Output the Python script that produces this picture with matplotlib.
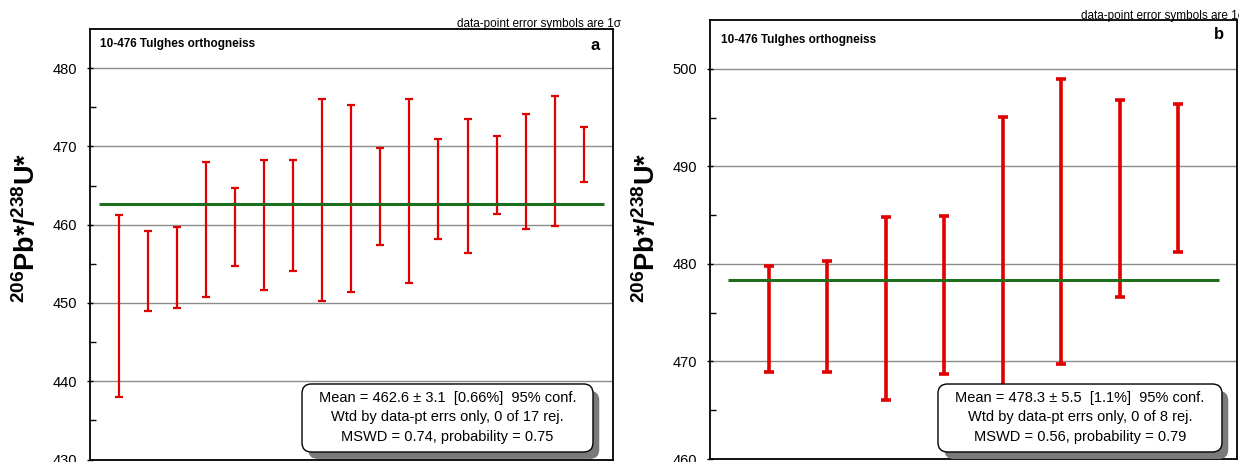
import matplotlib
matplotlib.use("Agg")
import matplotlib.pyplot as plt
from matplotlib.patches import FancyBboxPatch
import numpy as np

plt.rcParams['font.family'] = ['Liberation Sans', 'DejaVu Sans']
plt.rcParams['mathtext.fontset'] = 'custom'
plt.rcParams['mathtext.rm'] = 'Liberation Sans'
plt.rcParams['mathtext.bf'] = 'Liberation Sans:bold'
plt.rcParams['mathtext.it'] = 'Liberation Sans:italic'

# ---- data: panel a (17 analyses), error bar top / bottom ----
a_high = [461.3, 459.2, 459.7, 468.05, 464.75, 468.2, 468.2, 476.1, 475.25,
          469.75, 476.05, 471.0, 473.5, 471.35, 474.2, 476.4, 472.5]
a_low = [438.0, 449.0, 449.3, 450.7, 454.7, 451.7, 454.1, 450.3, 451.4,
         457.4, 452.55, 458.2, 456.4, 461.4, 459.4, 459.8, 465.4]
a_mean = 462.6
a_ticks = [430, 440, 450, 460, 470, 480]
a_text = ["Mean = 462.6 \u00b1 3.1  [0.66%]  95% conf.",
          "Wtd by data-pt errs only, 0 of 17 rej.",
          "MSWD = 0.74, probability = 0.75"]

# ---- data: panel b (8 analyses) ----
b_high = [479.8, 480.25, 484.8, 484.9, 495.07, 498.97, 496.8, 496.37]
b_low = [468.9, 468.9, 466.05, 468.7, 462.0, 469.7, 476.6, 481.25]
b_mean = 478.3
b_ticks = [460, 470, 480, 490, 500]
b_text = ["Mean = 478.3 \u00b1 5.5  [1.1%]  95% conf.",
          "Wtd by data-pt errs only, 0 of 8 rej.",
          "MSWD = 0.56, probability = 0.79"]

sample = "10-476 Tulghes orthogneiss"
ylabel = r'$\mathbf{^{206}Pb{*}/^{238}U{*}}$'
err_note = "data-point error symbols are 1\u03c3"

W, H = 1239, 462
fig = plt.figure(figsize=(W / 100, H / 100), dpi=100)


def px_axes(l, t, r, b):
    return fig.add_axes([l / W, 1 - b / H, (r - l) / W, (b - t) / H])


def panel(ax, high, low, mean, ticks, ylim, texts, letter, lw, cap, box, letter_y, title_y):
    n = len(high)
    x = np.arange(1, n + 1)
    high = np.array(high)
    low = np.array(low)
    mid = (high + low) / 2
    ax.set_xlim(0, n + 1)
    ax.set_ylim(*ylim)
    ax.set_yticks(ticks)
    ax.set_yticks(np.arange(ylim[0] + 5, ylim[1], 10), minor=True)
    ax.set_xticks([])
    ax.yaxis.grid(True, which='major', color='#8c8c8c', linewidth=1.0)
    ax.set_axisbelow(True)
    ax.tick_params(axis='y', which='major', direction='inout', length=4, width=1,
                   labelsize=10.5, pad=7)
    ax.tick_params(axis='y', which='minor', direction='in', length=4, width=1)
    for s in ax.spines.values():
        s.set_linewidth(1.3)
    ax.errorbar(x, mid, yerr=[mid - low, high - mid], fmt='none', ecolor='#e00000',
                elinewidth=lw, capsize=cap, capthick=lw, zorder=3)
    ax.hlines(mean, 0.3, n + 0.7, color='#1e6e1e', linewidth=2.2, zorder=4)
    ax.text(0.02, title_y, sample, transform=ax.transAxes, fontsize=8.5,
            fontweight='bold', va='center', ha='left')
    ax.text(0.975, letter_y, letter, transform=ax.transAxes, fontsize=12,
            fontweight='bold', va='center', ha='right')
    bl, bb, br, bt = box
    sh = FancyBboxPatch((bl + 0.012, bb - 0.016), br - bl, bt - bb,
                        boxstyle='round,pad=0,rounding_size=0.018',
                        transform=ax.transAxes, fc='#7a7a7a', ec='none', zorder=5,
                        clip_on=False, mutation_aspect=(W * 0.42) / (H * 0.93))
    ax.add_patch(sh)
    bx = FancyBboxPatch((bl, bb), br - bl, bt - bb,
                        boxstyle='round,pad=0,rounding_size=0.018',
                        transform=ax.transAxes, fc='white', ec='black', lw=1.0, zorder=6,
                        clip_on=False, mutation_aspect=(W * 0.42) / (H * 0.93))
    ax.add_patch(bx)
    cx = (bl + br) / 2
    hgt = bt - bb
    for i, t in enumerate(texts):
        ax.text(cx, bt - hgt * (0.2 + 0.29 * i), t, transform=ax.transAxes,
                fontsize=10.5, ha='center', va='center', zorder=7)


axa = px_axes(90, 29, 612.7, 459.5)
panel(axa, a_high, a_low, a_mean, a_ticks, (430, 485), a_text, 'a', 1.6, 2.6,
      (0.4056, 0.0174, 0.9623, 0.1754), 0.962, 0.966)
axb = px_axes(710, 20, 1237, 459)
panel(axb, b_high, b_low, b_mean, b_ticks, (460, 505), b_text, 'b', 2.6, 3.4,
      (0.4326, 0.016, 0.9715, 0.1708), 0.966, 0.954)

fig.text(27 / W, 1 - 228 / H, ylabel, rotation=90, fontsize=19.5, ha='center', va='center')
fig.text(647 / W, 1 - 228 / H, ylabel, rotation=90, fontsize=19.5, ha='center', va='center')
fig.text(621 / W, 1 - 27 / H, err_note, fontsize=8.5, ha='right', va='baseline')
fig.text(1245 / W, 1 - 19 / H, err_note, fontsize=8.5, ha='right', va='baseline')

fig.savefig('out.png', dpi=100, facecolor='white')
